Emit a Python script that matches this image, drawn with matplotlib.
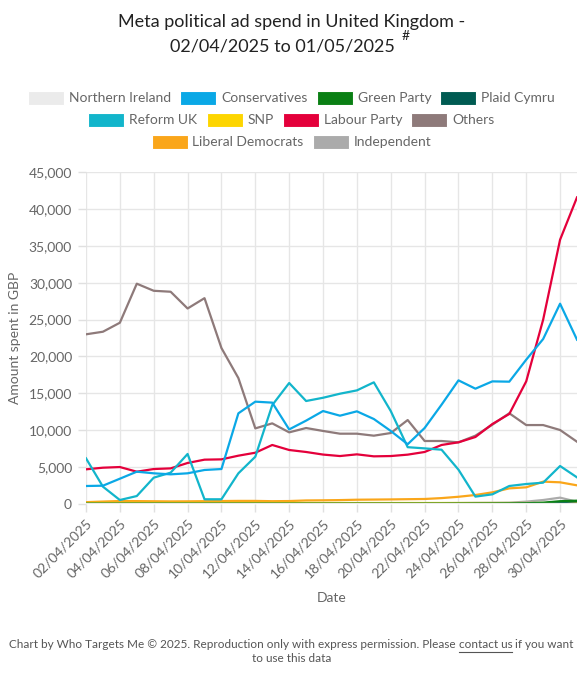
import matplotlib
matplotlib.use("Agg")
import matplotlib.pyplot as plt
from matplotlib.patches import Rectangle
from matplotlib.lines import Line2D
from matplotlib.ticker import FuncFormatter, MultipleLocator

plt.rcParams['font.family'] = ['Lato', 'DejaVu Sans']

# 02/04/2025 .. 01/05/2025, one value per day
dates = ["%02d/04/2025" % d for d in range(2, 31)] + ["01/05/2025"]

northern_ireland = [10] * 30
conservatives = [2440, 2480, 3430, 4380, 4160, 4020, 4160, 4610, 4740, 12290,
                 13870, 13740, 10110, 11300, 12600, 11970, 12560, 11520, 9900, 8100,
                 10300, 13460, 16760, 15630, 16620, 16580, 19560, 22360, 27150, 22270]
green_party = [40, 40, 40, 40, 40, 40, 40, 40, 40, 40,
               40, 40, 40, 40, 40, 40, 40, 40, 40, 40,
               40, 40, 50, 50, 60, 70, 100, 180, 380, 450]
plaid_cymru = [20, 20, 20, 20, 20, 20, 20, 20, 20, 20,
               20, 20, 20, 20, 20, 20, 20, 20, 20, 20,
               20, 20, 20, 30, 30, 40, 60, 100, 250, 350]
reform_uk = [6190, 2350, 540, 1080, 3570, 4250, 6780, 640, 640, 4160,
             6410, 13400, 16400, 13960, 14400, 14950, 15400, 16490, 12600, 7700,
             7540, 7360, 4650, 1000, 1310, 2440, 2710, 2890, 5150, 3610]
snp = [80] * 30
labour = [4700, 4920, 5010, 4380, 4740, 4830, 5560, 6010, 6050, 6550,
          6950, 8000, 7320, 7050, 6700, 6500, 6730, 6460, 6500, 6690,
          7050, 8000, 8360, 9080, 10840, 12200, 16620, 24980, 35820, 41560]
others = [23000, 23350, 24570, 29860, 28900, 28770, 26500, 27900, 21140, 17070,
          10250, 10930, 9710, 10300, 9900, 9530, 9530, 9260, 9620, 11380,
          8540, 8540, 8360, 9260, 10750, 12300, 10700, 10700, 10030, 8440]
lib_dems = [250, 330, 400, 390, 370, 350, 360, 380, 400, 420,
            420, 380, 400, 480, 500, 530, 580, 600, 620, 650,
            680, 800, 980, 1220, 1580, 2120, 2260, 3030, 2940, 2530]
independent = [60, 60, 80, 80, 80, 80, 80, 80, 80, 80,
               90, 90, 100, 100, 100, 100, 100, 100, 100, 100,
               120, 120, 130, 150, 160, 180, 320, 540, 860, 300]

series = [
    ("Northern Ireland", northern_ireland, "#EBEBEB"),
    ("Conservatives", conservatives, "#0AA8E6"),
    ("Green Party", green_party, "#0A7F14"),
    ("Plaid Cymru", plaid_cymru, "#005B52"),
    ("Reform UK", reform_uk, "#12B5CB"),
    ("SNP", snp, "#FDD500"),
    ("Labour Party", labour, "#E4003B"),
    ("Others", others, "#8E7A7A"),
    ("Liberal Democrats", lib_dems, "#FAA61A"),
    ("Independent", independent, "#ABABAB"),
]
legend_rows = [
    ["Northern Ireland", "Conservatives", "Green Party", "Plaid Cymru"],
    ["Reform UK", "SNP", "Labour Party", "Others"],
    ["Liberal Democrats", "Independent"],
]

W, H = 583, 680
fig = plt.figure(figsize=(W / 100, H / 100), dpi=100)
ax = fig.add_axes([86 / W, 1 - 504 / H, (577 - 86) / W, (504 - 172) / H])

x = list(range(len(dates)))
for name, vals, col in reversed(series):
    ax.plot(x, vals, color=col, lw=1.6, solid_joinstyle='round')

ax.set_xlim(0, len(dates) - 1)
ax.set_ylim(0, 45000)
ax.yaxis.set_major_locator(MultipleLocator(5000))
ax.yaxis.set_major_formatter(FuncFormatter(lambda v, p: f"{int(v):,}"))
ax.set_xticks(x[::2])
ax.set_xticklabels(dates[::2], rotation=45, ha='right', va='top', rotation_mode='anchor')
ax.grid(True, color='#E6E6E6', lw=1)
ax.set_axisbelow(True)
for s in ax.spines.values():
    s.set_visible(False)
ax.tick_params(axis='both', colors='#E0E0E0', labelcolor='#666666', labelsize=10, length=6, width=1)
ax.tick_params(axis='y', pad=4)

fig.text(15 / W, 1 - 338 / H, "Amount spent in GBP", rotation=90, ha='center', va='center',
         fontsize=10, color='#666666')
fig.text(331.5 / W, 1 - 598 / H, "Date", ha='center', va='center', fontsize=10, color='#666666')

# title
fig.text(0.5, 1 - 22 / H, "Meta political ad spend in United Kingdom -", ha='center', va='center',
         fontsize=13, color='#222222')
fig.text(282 / W, 1 - 47 / H, "02/04/2025 to 01/05/2025", ha='center', va='center',
         fontsize=13, color='#222222')
fig.text(406 / W, 1 - 36 / H, "#", ha='center', va='center', fontsize=10, color='#222222')

# legend rows, centred like the web chart
renderer = fig.canvas.get_renderer()
colors = {n: c for n, v, c in series}
row_y = [98, 120, 142]
box_w, box_h, gap, pad = 36, 13, 5, 9
for row, yy in zip(legend_rows, row_y):
    widths = []
    for name in row:
        t = fig.text(0, 0, name, fontsize=10)
        widths.append(t.get_window_extent(renderer).width)
        t.remove()
    total = sum(box_w + gap + w for w in widths) + pad * (len(row) - 1)
    cx = (W - total) / 2
    for name, w in zip(row, widths):
        fig.patches.append(Rectangle((cx / W, 1 - (yy + box_h / 2) / H), box_w / W, box_h / H,
                                     transform=fig.transFigure, facecolor=colors[name],
                                     edgecolor='white', lw=0.8))
        fig.text((cx + box_w + gap) / W, 1 - yy / H, name, ha='left', va='center',
                 fontsize=10, color='#666666')
        cx += box_w + gap + w + pad

# footer with underlined link
parts = ["Chart by Who Targets Me \u00a9 2025. Reproduction only with express permission. Please ",
         "contact us", " if you want"]
fs = 8.5
ws = []
for p in parts:
    t = fig.text(0, 0, p, fontsize=fs)
    ws.append(t.get_window_extent(renderer).width)
    t.remove()
fx = (W - sum(ws)) / 2
fy = 645
for i, (p, w) in enumerate(zip(parts, ws)):
    fig.text(fx / W, 1 - fy / H, p, ha='left', va='center', fontsize=fs, color='#555555')
    if i == 1:
        fig.lines.append(Line2D([fx / W, (fx + w) / W], [1 - (fy + 7) / H] * 2,
                                transform=fig.transFigure, color='#555555', lw=0.8))
    fx += w
fig.text(0.5, 1 - 659 / H, "to use this data", ha='center', va='center', fontsize=fs, color='#555555')

fig.savefig("out.png", dpi=100, facecolor='white')
